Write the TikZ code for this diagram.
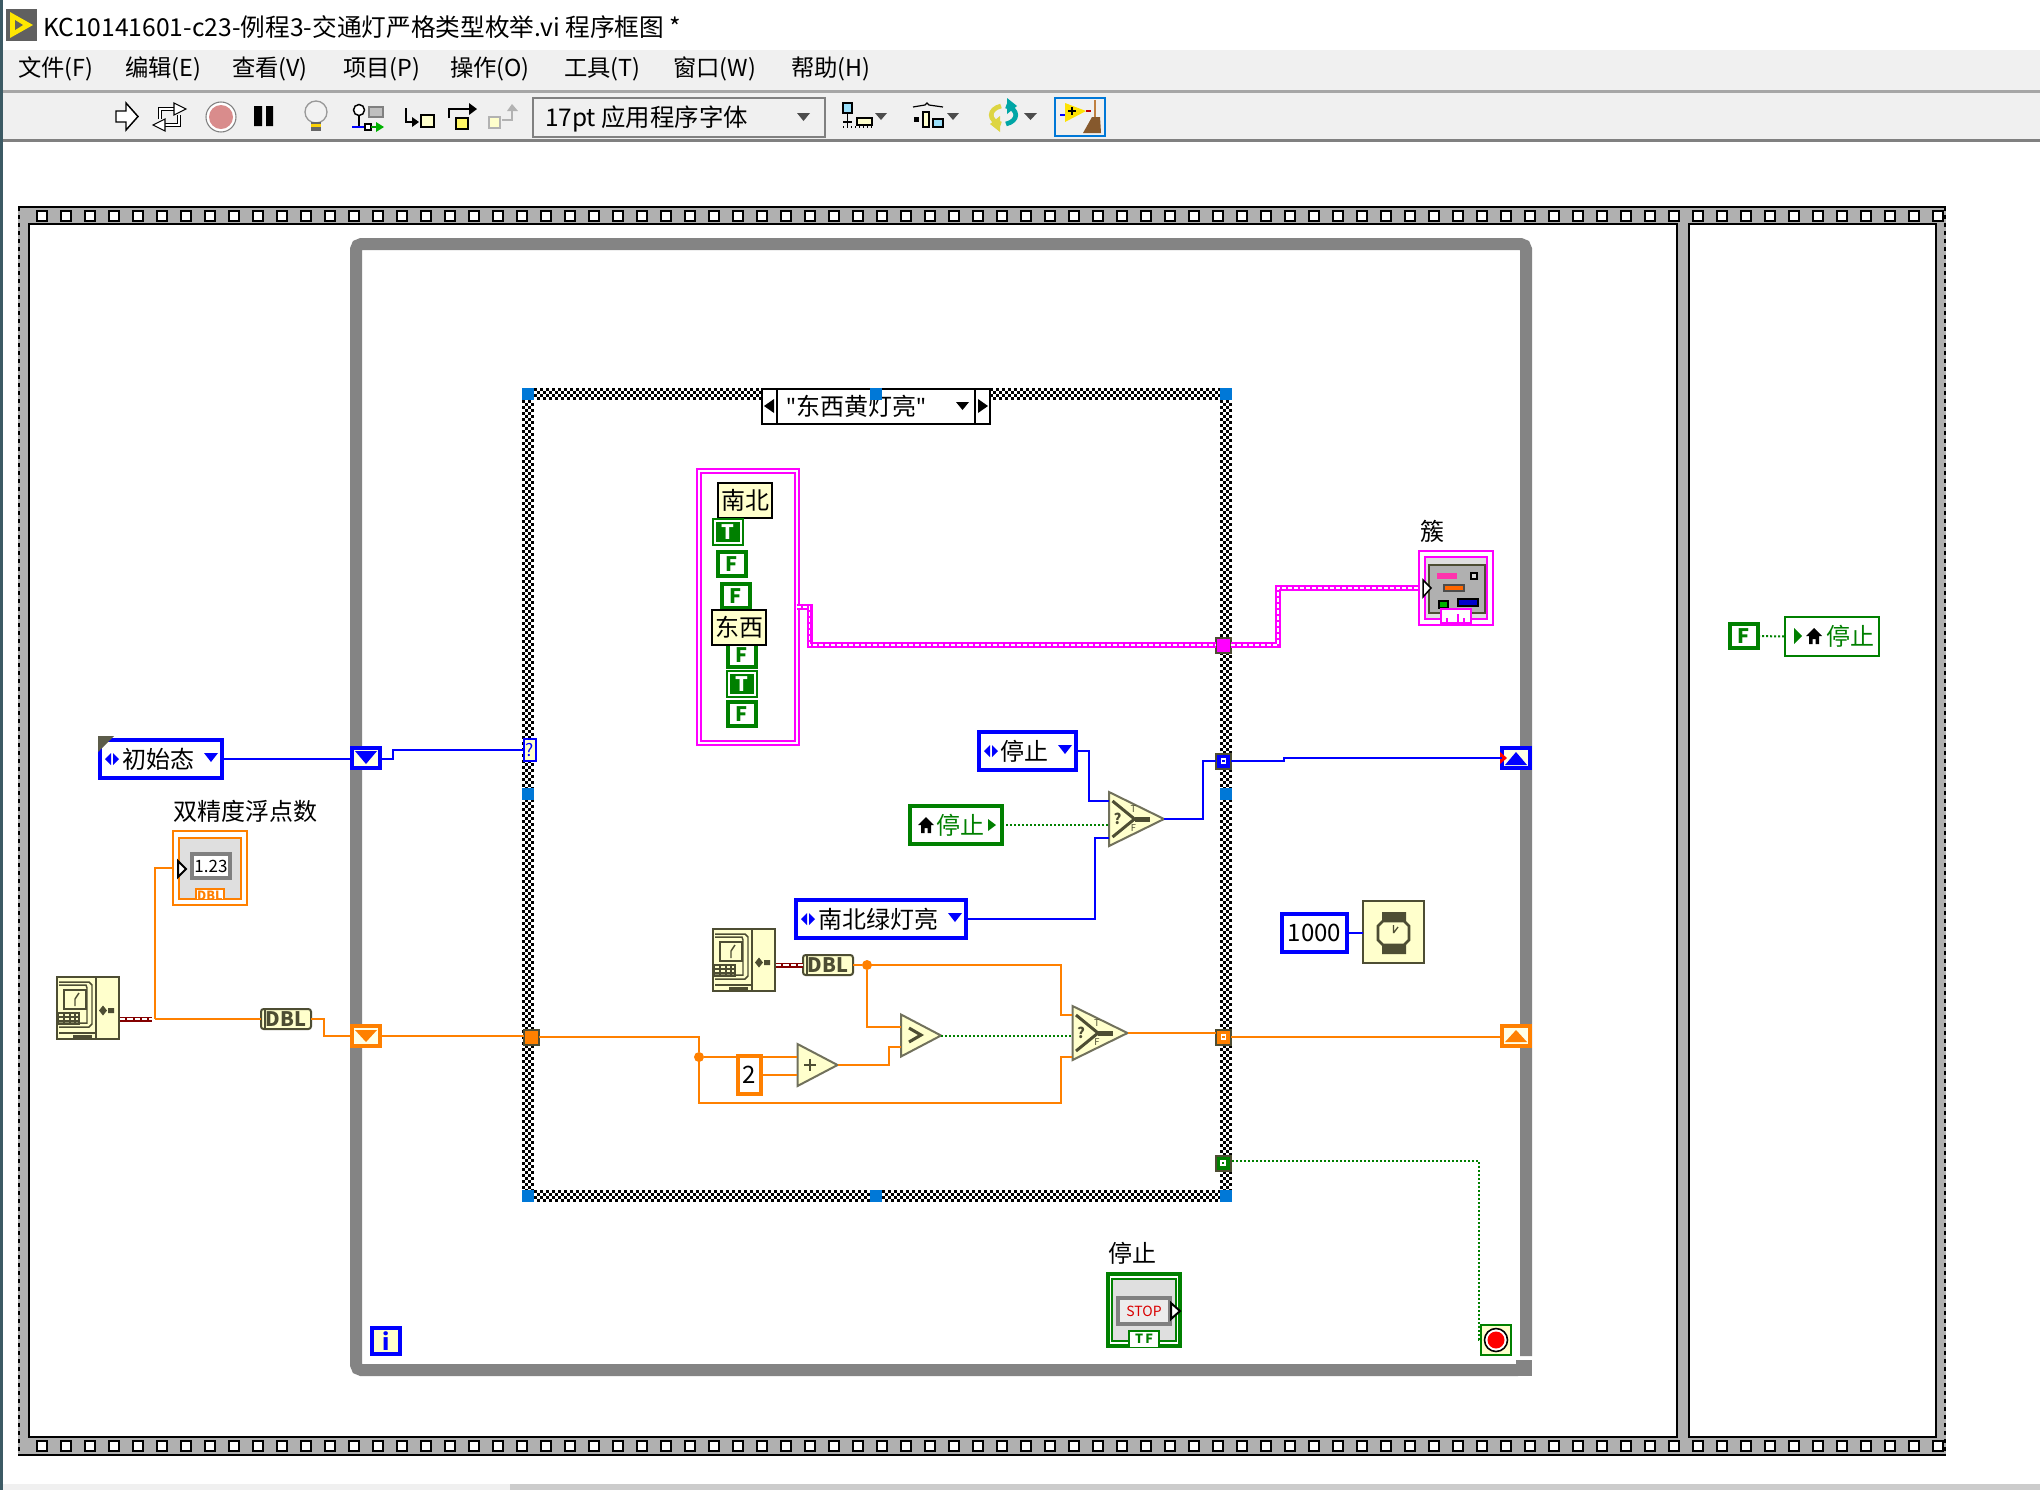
\documentclass[tikz,border=0pt]{standalone}
\usepackage{fontspec}
\setmainfont{Noto Sans CJK SC}
\newfontfamily\quotefont{Noto Sans}
\usepackage{xcolor}
\usepackage{tikz}

\definecolor{wireblue}{RGB}{0,0,255}
\definecolor{wireorg}{RGB}{255,128,0}
\definecolor{wiregrn}{RGB}{0,128,0}
\definecolor{wiremag}{RGB}{255,0,255}
\definecolor{wirered}{RGB}{132,0,0}
\definecolor{primfill}{RGB}{255,255,204}
\definecolor{primline}{RGB}{77,77,51}
\definecolor{handle}{RGB}{0,120,215}
\definecolor{barfill}{RGB}{240,240,240}
\definecolor{loopgray}{RGB}{132,132,132}
\definecolor{stripgray}{RGB}{176,176,176}
\definecolor{winedge}{RGB}{60,90,100}

\tikzset{
  wh/.style 2 args={minimum width=#1*0.75pt,minimum height=#2*0.75pt},
  plainbox/.style={inner sep=0pt,outer sep=0pt,align=center},
  labelfont/.style={font=\fontsize{18pt}{20pt}\selectfont},
  menufont/.style={plainbox,anchor=west,font=\fontsize{17.5pt}{20pt}\selectfont},
  freelabel/.style={plainbox,labelfont},
  enumbox/.style={plainbox,labelfont,draw=wireblue,fill=white,line width=3pt},
  localbox/.style={plainbox,labelfont,text=wiregrn,draw=wiregrn,fill=white,line width=3pt},
  namebox/.style={plainbox,labelfont,draw=black,fill=primfill,line width=1.5pt,wh={54}{35}},
  boolF/.style={plainbox,draw=wiregrn,fill=white,text=wiregrn,line width=3pt,
    font=\fontsize{15pt}{16pt}\selectfont\bfseries,wh={28}{24}},
  boolT/.style={plainbox,draw=wiregrn,fill=wiregrn,text=white,line width=1.5pt,
    double=white,double distance=1.5pt,font=\fontsize{15pt}{16pt}\selectfont\bfseries,wh={26}{22}},
  tunsolid/.style={plainbox,draw=primline,line width=1.5pt,wh={15}{15}},
  regbox/.style={plainbox,line width=3pt,fill=primfill!50!white,wh={28}{20}},
  primbox/.style={plainbox,draw=primline,fill=primfill,line width=1.5pt},
  hidebox/.style={plainbox},
  dblbox/.style={plainbox,draw=primline,fill=primfill,line width=1.5pt,rounded corners=2pt,
    font=\fontsize{15pt}{16pt}\selectfont\bfseries,text=primline,wh={50}{20}},
  junc/.style={circle,fill=wireorg,inner sep=0pt,minimum size=7.5pt},
  bluewire/.style={draw=wireblue,line width=1.5pt},
  orgwire/.style={draw=wireorg,line width=1.5pt},
  grnwire/.style={draw=wiregrn,line width=1.5pt,dash pattern=on 1.5pt off 1.5pt},
  clusterwire/.style={draw=wiremag,line width=4.5pt,postaction={draw=white,line width=1.1pt,dash pattern=on 3pt off 1.5pt}},
  timewire/.style={draw=wirered,line width=3.75pt,postaction={draw=white,line width=1.1pt,dash pattern=on 4pt off 1.5pt}},
  chkA/.style={draw=black,line width=2.25pt,dash pattern=on 2.25pt off 2.25pt},
  chkB/.style={chkA,dash phase=2.25pt},
  handlebox/.style={fill=handle,inner sep=0pt,outer sep=0pt,wh={12}{12}},
}

% checker bands of the case frame
\newcommand\checkh[3]{%
  \fill[white] (#1,#3) rectangle (#2,#3+12);
  \draw[chkA] (#1,#3+1.5) -- (#2,#3+1.5);
  \draw[chkB] (#1,#3+4.5) -- (#2,#3+4.5);
  \draw[chkA] (#1,#3+7.5) -- (#2,#3+7.5);
  \draw[chkB] (#1,#3+10.5) -- (#2,#3+10.5);}
\newcommand\checkv[3]{%
  \fill[white] (#3,#1) rectangle (#3+12,#2);
  \draw[chkA] (#3+1.5,#1) -- (#3+1.5,#2);
  \draw[chkB] (#3+4.5,#1) -- (#3+4.5,#2);
  \draw[chkA] (#3+7.5,#1) -- (#3+7.5,#2);
  \draw[chkB] (#3+10.5,#1) -- (#3+10.5,#2);}
% film strip holes
\newcommand\holes[1]{%
  \draw[black,line width=9pt,dash pattern=on 9pt off 9pt] (36,#1) -- (1945,#1);
  \draw[white,line width=6pt,dash pattern=on 6pt off 12pt] (38,#1) -- (1945,#1);}
% enum glyphs
\newcommand\enumdeco[1]{%
  \fill[wireblue,shift={(#1.west)}] (5,0) -- (11,-6) -- (11,6) -- cycle (19,0) -- (13,-6) -- (13,6) -- cycle;
  \fill[wireblue,shift={(#1.east)}] (-18,-6) -- (-4,-6) -- (-11,3) -- cycle;}
\newcommand\homeicon[3]{%
  \fill[#1,shift={(#2,#3)}] (-8,0) -- (0,-8) -- (8,0) -- (5,0) -- (5,8) -- (1.5,8) -- (1.5,3) -- (-1.5,3) -- (-1.5,8) -- (-5,8) -- (-5,0) -- cycle;}
% tick count
\newcommand\tickicon[3]{%
  \node[primbox,wh={62}{62}] (#1) at (#2,#3) {};
  \begin{scope}[shift={(#2,#3)},draw=primline,line width=1.1pt]
    \draw (-29,-26) -- (1,-26) -- (4,-23) -- (4,16) -- (1,19) -- (-29,19);
    \draw (-29,-23) -- (-2,-23) -- (-1,-20) -- (-1,15) -- (-29,15);
    \draw (8,-32) -- (8,32);
    \draw (-29,25) -- (8,25);
    \draw[fill=primfill] (-24,-18) rectangle (-2,1);
    \draw (-13,-9) -- (-13,-2) (-13,-9) -- (-9,-15);
    \draw (-30,5) rectangle (-9,16) (-30,9) -- (-9,9) (-30,13) -- (-9,13) (-24,5) -- (-24,16) (-18,5) -- (-18,16) (-13,5) -- (-13,16);
    \fill[primline] (-15,27) rectangle (4,31);
    \fill[primline] (20,0) rectangle (26,5) (11,2.5) -- (15,-2.5) -- (19,2.5) -- (15,7.5) -- cycle;
  \end{scope}}
% select
\newcommand\selprim[3]{%
  \node[hidebox,wh={55}{54}] (#1) at (#2,#3) {};
  \begin{scope}[shift={(#2,#3)}]
    \draw[draw=primline!80!white,fill=primfill,line width=1.5pt] (-27.5,-27) -- (27.5,0) -- (-27.5,27) -- cycle;
    \draw[primline,line width=2.25pt] (-24,-18) -- (-2,0) -- (-24,18);
    \draw[primline,line width=3.75pt] (-2,0) -- (13,0);
    \node[plainbox,text=primline] (#1q) at (-19,0) {\fontsize{11pt}{12pt}\selectfont\bfseries ?};
    \node[plainbox,text=primline] (#1t) at (-3,-10) {\fontsize{7pt}{8pt}\selectfont T};
    \node[plainbox,text=primline] (#1f) at (-3,9) {\fontsize{7pt}{8pt}\selectfont F};
  \end{scope}}
% small triangle prim
\newcommand\triprim[3]{%
  \node[hidebox,wh={40}{42}] (#1) at (#2,#3) {};
  \draw[draw=primline!80!white,fill=primfill,line width=1.5pt,shift={(#2,#3)}] (-20,-21) -- (20,0) -- (-20,21) -- cycle;}

\begin{document}
\begin{tikzpicture}[x=0.75pt,y=0.75pt,yscale=-1,xscale=1]
\useasboundingbox (0,0) rectangle (2040,1490);
\fill[white] (0,0) rectangle (2040,1490);

%Window bars
\fill[barfill] (0,50) rectangle (2040,90);
\fill[barfill] (0,93) rectangle (2040,140);
\fill[gray!70] (0,90) rectangle (2040,93);
\fill[gray] (0,139) rectangle (2040,142);
\fill[barfill] (0,1484) rectangle (510,1490);
\fill[gray!40] (510,1484) rectangle (2040,1490);
\fill[winedge] (0,0) rectangle (3,1490);

%Title icon
\fill[gray!75!black] (6,9) rectangle (37,41);
\fill[yellow!90!orange] (10,12) -- (33,25) -- (10,38) -- cycle;
\fill[gray!75!black] (15,20) -- (23,25) -- (15,30) -- cycle;

% Text Node
\node[plainbox,anchor=west,font=\fontsize{18.5pt}{20pt}\selectfont] (winTitle) at (43,27) {KC10141601-c23-例程3-交通灯严格类型枚举.vi 程序框图 *};
% Text Node
\node[menufont] (mFile) at (18,69) {文件(F)};
\node[menufont] (mEdit) at (125,69) {编辑(E)};
\node[menufont] (mView) at (232,69) {查看(V)};
\node[menufont] (mProj) at (343,69) {项目(P)};
\node[menufont] (mOper) at (450,69) {操作(O)};
\node[menufont] (mTool) at (564,69) {工具(T)};
\node[menufont] (mWin) at (673,69) {窗口(W)};
\node[menufont] (mHelp) at (791,69) {帮助(H)};

%Toolbar icons
\draw[fill=white,line width=1.1pt,line join=miter] (116,111) -- (126,111) -- (126,103) -- (138,116.5) -- (126,130) -- (126,122) -- (116,122) -- cycle;
\draw[line width=2.6pt] (160,119) -- (160,109) -- (175,109) (179,115) -- (179,125) -- (164,125);
\draw[white,line width=.8pt] (160,119) -- (160,109) -- (175,109) (179,115) -- (179,125) -- (164,125);
\draw[fill=white,line width=.8pt] (174,103) -- (186,109) -- (174,115) -- cycle (165,119) -- (153,125) -- (165,131) -- cycle;
\draw[gray,fill=white,line width=.8pt] (221,117) circle (15);
\fill[red!50!gray!60!white] (221,117) circle (12);
\fill[black] (254,106) rectangle (262,126) (266,106) rectangle (273,126);
\draw[gray!80,fill=white!90!gray,line width=1pt] (316,112) circle (11);
\fill[black!60] (311,122) rectangle (321,131);
\fill[yellow!70!orange] (311,124) rectangle (321,126.5);
\draw[line width=1.1pt,fill=white] (359,110) circle (5.5);
\draw[line width=1.1pt] (359,115.5) -- (359,127);
\draw[gray,fill=gray!50,line width=.8pt] (369,107) rectangle (383,117);
\draw[wireblue,line width=1.1pt] (352,127) -- (365,127);
\draw[line width=.8pt,fill=white] (365,124) rectangle (371,130);
\draw[wiregrn!80!green,line width=1.1pt] (371,127) -- (376,127);
\fill[green!70!black] (376,122) -- (384,127) -- (376,132) -- cycle;
\draw[line width=1.7pt] (406,108) -- (406,122) -- (414,122);
\fill[black] (412,117) -- (419,122) -- (412,127) -- cycle;
\draw[line width=1.3pt,fill=primfill] (421,115) rectangle (434,127);
\draw[line width=1.7pt] (449,118) -- (449,109) -- (471,109);
\fill[black] (469,103) -- (477,109) -- (469,115) -- cycle;
\draw[line width=1.3pt,fill=yellow!60] (456,118) rectangle (468,129);
\draw[gray!60,line width=1pt,fill=primfill] (489,117) rectangle (500,128);
\draw[gray!60,line width=1.7pt] (502,120) -- (512,120) -- (512,110);
\fill[gray!60] (507,111) -- (512,104) -- (518,111) -- cycle;

%Font box
\node[plainbox,draw=gray,fill=barfill,line width=1.5pt,wh={292}{39}] (fontBox) at (678.5,117) {};
% Text Node
\node[plainbox,anchor=west,font=\fontsize{18.3pt}{20pt}\selectfont] (fontText) at (545,119) {17pt 应用程序字体};
\fill[black!70] (797,113) -- (810,113) -- (803.5,121) -- cycle;

%Align icons
\draw[line width=1pt,fill=cyan!40] (843,103) rectangle (852,113);
\draw[line width=1.1pt] (847.5,114) -- (847.5,128) (843,122) -- (852,122);
\draw[line width=1pt,dotted] (843,127) -- (872,127);
\draw[line width=1pt,fill=primfill] (857,118) rectangle (872,125);
\fill[black!70] (875,113) -- (887,113) -- (881,120) -- cycle;
\draw[line width=.9pt] (913,107) -- (925,105) -- (927,103) -- (929,105) -- (943,107);
\fill[black] (914,117) rectangle (919,122);
\draw[line width=1pt,fill=primfill] (923,112) rectangle (929,127);
\draw[line width=1pt,fill=cyan!40] (933,119) rectangle (943,127);
\fill[black!70] (947,113) -- (959,113) -- (953,120) -- cycle;
\draw[yellow!70!gray,line width=3.5pt] (1001,106) .. controls (988,109) and (988,121) .. (1001,124);
\fill[yellow!70!gray] (1000,116) -- (1000,132) -- (990,124) -- cycle;
\draw[teal!70!cyan,line width=3.5pt] (1006,106) .. controls (1019,109) and (1019,121) .. (1006,124);
\fill[teal!70!cyan] (1007,98) -- (1007,114) -- (1017,106) -- cycle;
\fill[black!70] (1024,113) -- (1037,113) -- (1030.5,120) -- cycle;
\draw[handle,line width=1.5pt] (1055,98) rectangle (1105,136);
\fill[yellow!85!orange] (1065,103) -- (1086,111) -- (1065,122) -- cycle;
\draw[black,line width=1pt] (1068,111) -- (1076,111) (1072,107) -- (1072,115);
\draw[wirered!50!red,line width=1pt] (1086,111) -- (1091,111);
\draw[wireblue,line width=1pt] (1060,115) -- (1065,115);
\fill[brown!70!black] (1083,133) -- (1092,117) -- (1100,117) -- (1101,133) -- cycle;
\draw[brown,line width=1.5pt] (1095,100) -- (1095,117);

%Film strip frame
\fill[stripgray] (18,206) rectangle (1946,1456);
\draw[black,line width=1.5pt] (18,207) -- (1946,207) (18,1455) -- (1946,1455);
\draw[black,line width=1.5pt,dash pattern=on 3pt off 3pt] (19,207) -- (19,1455) (1945,207) -- (1945,1455);
\holes{216}
\holes{1446}
\draw[black,fill=white,line width=1.5pt] (29,224) rectangle (1677,1437);
\draw[black,fill=white,line width=1.5pt] (1689,224) rectangle (1936,1437);

%While loop
\draw[loopgray,line width=9pt,rounded corners=4pt] (1526,1356) -- (1526,244) -- (356,244) -- (356,1370) -- (1518,1370);
\fill[loopgray] (1516,1360) rectangle (1532,1376);

%Case frame
\checkh{522}{1232}{388}
\checkh{522}{1232}{1190}
\checkv{388}{1202}{522}
\checkv{388}{1202}{1220}

%Case selector
\node[plainbox,draw=black,fill=white,line width=1.5pt,labelfont,wh={228}{35}] (caseSel) at (876,406.5) {};
\draw[black,line width=1.5pt] (777,389) -- (777,424) (975,389) -- (975,424);
\fill[black] (764,406) -- (774,399) -- (774,413) -- cycle (988,406) -- (978,399) -- (978,413) -- cycle;
\fill[black] (956,402) -- (969,402) -- (962.5,410) -- cycle;
% Text Node
\node[freelabel] (caseText) at (856,406.5) {{\quotefont"}东西黄灯亮{\quotefont"}};

%Selection handles
\node[handlebox] (hdlA) at (528,394) {};
\node[handlebox] (hdlB) at (876,394) {};
\node[handlebox] (hdlC) at (1226,394) {};
\node[handlebox] (hdlD) at (528,794) {};
\node[handlebox] (hdlE) at (1226,794) {};
\node[handlebox] (hdlF) at (528,1196) {};
\node[handlebox] (hdlG) at (876,1196) {};
\node[handlebox] (hdlH) at (1226,1196) {};

%Cluster constant
\node[plainbox,draw=wiremag,fill=white,double=white,double distance=1.5pt,line width=1.5pt,wh={98}{272}] (clustConst) at (747.5,607) {};
\node[namebox] (nameNS) at (745,500.5) {南北};
\node[boolT] (boolA) at (728,532) {T};
\node[boolF] (boolB) at (732,564) {F};
\node[boolF] (boolC) at (736,596) {F};
\node[boolF] (boolD) at (742,655) {F};
\node[namebox] (nameEW) at (739,627) {东西};
\node[boolT] (boolE) at (742,684) {T};
\node[boolF] (boolF) at (742,714) {F};

%Enums and locals
\node[enumbox,wh={122}{38}] (enumInit) at (161,759) {初始态\hspace{4pt}};
\enumdeco{enumInit}
\fill[primline!70!gray] (98,736) -- (114,736) -- (98,752) -- cycle;
\node[enumbox,wh={97}{38}] (enumStop) at (1027.5,751) {停止\hspace{4pt}};
\enumdeco{enumStop}
\node[enumbox,wh={170}{38}] (enumSN) at (881,919) {南北绿灯亮\hspace{4pt}};
\enumdeco{enumSN}
\node[localbox,wh={92}{38}] (localStop) at (956,825) {\hspace{6pt}停止};
\homeicon{black}{926}{825}
\fill[wiregrn] (988,819) -- (996,825) -- (988,831) -- cycle;
\node[plainbox,draw=wiregrn,fill=white,text=wiregrn,line width=1.5pt,labelfont,wh={94}{39}] (localStopB) at (1832,636.5) {\hspace{28pt}停止};
\homeicon{black}{1814}{636}
\fill[wiregrn] (1794,628) -- (1802,636) -- (1794,644) -- cycle;
\node[boolF,wh={28}{24}] (cstFalse) at (1744,636) {F};

%Tunnels on the loop
\node[regbox,draw=wireblue] (regBlueL) at (366,758) {};
\fill[wireblue] (355,751) -- (377,751) -- (366,764) -- cycle;
\node[regbox,draw=wireorg] (regOrgL) at (366,1036) {};
\fill[wireorg] (355,1030) -- (377,1030) -- (366,1042) -- cycle;
\node[regbox,draw=wireblue] (regBlueR) at (1516,758) {};
\fill[wireblue] (1505,765) -- (1527,765) -- (1516,752) -- cycle;
\fill[red] (1500,752) -- (1507,758) -- (1500,764) -- cycle;
\node[regbox,draw=wireorg] (regOrgR) at (1516,1036) {};
\fill[wireorg] (1505,1042) -- (1527,1042) -- (1516,1030) -- cycle;

%Tunnels on the case
\node[plainbox,draw=wireblue,fill=primfill,line width=1.5pt,text=wireblue,font=\fontsize{13pt}{14pt}\selectfont,wh={12}{22}] (caseQ) at (530,750) {?};
\node[tunsolid,fill=wireorg] (tunOrgL) at (531,1037) {};
\node[tunsolid,fill=wiremag] (tunClust) at (1223.5,645) {};
\node[tunsolid,fill=wireblue] (tunBlue) at (1223.5,761) {};
\draw[white,line width=1pt] (1221.5,759) rectangle (1225.5,763);
\node[tunsolid,fill=wireorg] (tunOrgR) at (1223.5,1037) {};
\draw[white,line width=1pt] (1221.5,1035) rectangle (1225.5,1039);
\node[tunsolid,fill=wiregrn] (tunGrn) at (1223,1163) {};
\draw[white,line width=1pt] (1221,1161) rectangle (1225,1165);

%Tick counts and conversions
\tickicon{tickA}{88}{1008}
\tickicon{tickB}{744}{960}
\node[dblbox] (dblA) at (286,1019) {DBL};
\draw[primline,line width=1pt] (265,1009) -- (265,1029);
\node[dblbox] (dblB) at (828,965) {DBL};
\draw[primline,line width=1pt] (807,955) -- (807,975);

%Numeric indicator
\node[plainbox,draw=wireorg,fill=white,line width=1.5pt,wh={74}{74}] (numInd) at (210,868) {};
\draw[wireorg,fill=gray!25,line width=1.5pt] (179,838) rectangle (241,899);
\draw[gray,fill=white,line width=3pt] (192,854) rectangle (230,878);
\node[plainbox,font=\fontsize{12.75pt}{14pt}\selectfont] (numText) at (211,866) {1.23};
\draw[wireorg,fill=white,line width=1.5pt] (196,899) -- (196,889) -- (224,889) -- (224,899);
\node[plainbox,text=wireorg,font=\fontsize{9.5pt}{10pt}\selectfont\bfseries] (numTag) at (210,896) {DBL};
\draw[black,fill=white,line width=1.5pt] (178,861) -- (186,869) -- (178,877) -- cycle;
% Text Node
\node[freelabel] (numLabel) at (245.5,811) {双精度浮点数};

%Cluster indicator
\node[plainbox,draw=wiremag,fill=white,line width=1.5pt,wh={74}{74}] (clustInd) at (1456,588) {};
\draw[wiremag,fill=gray!25,line width=1.5pt] (1425,557) rectangle (1487,619);
\draw[primline,fill=stripgray,line width=1.5pt] (1429,565) rectangle (1485,613);
\fill[wiremag!60!red!80!white] (1437,573) rectangle (1457,579);
\draw[black,fill=white!70!gray,line width=1pt] (1471,573) rectangle (1477,579);
\draw[black!70,fill=orange!80!red,line width=.8pt] (1444,585) rectangle (1464,591);
\draw[black,fill=green!70!black,line width=.8pt] (1439,601) rectangle (1448,608);
\draw[black,fill=wireblue!80!black,line width=.8pt] (1458,599) rectangle (1478,606);
\draw[wiremag,fill=white,line width=1.5pt] (1441,609) rectangle (1471,623);
\draw[wiremag,line width=1.5pt] (1447,624) -- (1447,618) (1458,624) -- (1458,614) (1464,624) -- (1464,618);
\draw[black,fill=white,line width=1.1pt] (1423,580) -- (1431,588) -- (1423,597) -- cycle;
% Text Node
\node[freelabel] (clustLabel) at (1432,531) {簇};

%Primitives
\triprim{addPrim}{817.5}{1065}
\draw[primline,line width=1.9pt] (804,1065) -- (816,1065) (810,1059) -- (810,1071);
\triprim{gtPrim}{921}{1035.5}
\draw[primline,line width=2.3pt] (909,1028) -- (921,1035) -- (909,1042);
\selprim{selTop}{1136.5}{819}
\selprim{selBot}{1100}{1033}
\node[plainbox,draw=wireorg,fill=white,line width=3pt,wh={23}{38},labelfont] (cstTwo) at (749.5,1075) {2};
\node[enumbox,wh={65}{38}] (cstWait) at (1314.5,933) {1000};
\node[primbox,wh={61}{62}] (waitPrim) at (1393.5,932) {};
\fill[primline] (1382,912) rectangle (1406,925) (1382,941) rectangle (1406,954);
\draw[primline,fill=primfill,line width=2pt] (1383,921) -- (1404,921) -- (1409,926) -- (1409,940) -- (1404,945) -- (1383,945) -- (1378,940) -- (1378,926) -- cycle;
\draw[primline,line width=1pt] (1393.5,933) -- (1393.5,925) (1393.5,933) -- (1398,927);

%Stop control
\node[plainbox,draw=wiregrn,fill=white,line width=3pt,wh={72}{72}] (stopCtl) at (1144,1310) {};
\draw[wiregrn,fill=gray!25,line width=1.5pt] (1112,1279) rectangle (1176,1341);
\draw[gray,fill=gray!15,line width=2.5pt] (1118,1298) rectangle (1170,1324);
\node[plainbox,text=red!85!black,font=\fontsize{10.5pt}{12pt}\selectfont] (stopText) at (1144,1311) {STOP};
\draw[black,fill=white,line width=1.5pt] (1171,1303) -- (1180,1311) -- (1171,1319) -- cycle;
\draw[wiregrn,fill=white,line width=1.5pt] (1129,1347) -- (1129,1331) -- (1159,1331) -- (1159,1347);
\node[plainbox,text=wiregrn,font=\fontsize{9.5pt}{10pt}\selectfont\bfseries] (stopTag) at (1144,1339) {T\,F};
% Text Node
\node[freelabel] (stopLabel) at (1132,1253) {停止};

%Iteration and condition
\node[plainbox,draw=wireblue,fill=primfill,text=wireblue,line width=3pt,wh={28}{26},font=\fontsize{17pt}{18pt}\selectfont\bfseries] (iterBox) at (386,1341) {i};
\node[plainbox,draw=wiregrn,fill=primfill,line width=1.5pt,wh={30}{30}] (condStop) at (1496,1340) {};
\draw[black,fill=white,line width=1.2pt] (1496,1340) circle (11.5);
\fill[red] (1496,1340) circle (8.5);

%Terminals
\coordinate (addA) at (797,1057);
\coordinate (addB) at (797,1075);
\coordinate (gtA) at (901,1027);
\coordinate (gtB) at (901,1047);
\coordinate (selTopT) at (1109,801);
\coordinate (selTopF) at (1109,838);
\coordinate (selBotT) at (1072,1015);
\coordinate (selBotF) at (1072,1057);
\coordinate (timeA) at (120,1019);
\coordinate (timeAend) at (152,1019);
\coordinate (turnA) at (155,1019);
\coordinate (timeB) at (776,965);
\coordinate (grnOut) at (1232,1161);
\node[junc] (jcA) at (699,1057) {};
\node[junc] (jcB) at (867,965) {};

%Blue wires
\draw[bluewire] (enumInit.east) -- (enumInit.east -| regBlueL.west);
\draw[bluewire] (enumInit.east -| regBlueL.east) -- ++(13,0) |- (caseQ.west);
\draw[bluewire] (enumStop.east) -- ++(13,0) |- (selTopT);
\draw[bluewire] (enumSN.east) -- ++(129,0) |- (selTopF);
\draw[bluewire] (selTop.east) -- ++(39,0) |- (tunBlue.west);
\draw[bluewire] (tunBlue.east) -- ++(53,0) |- (regBlueR.west);
\draw[bluewire] (cstWait.east) -- (cstWait.east -| waitPrim.west);

%Orange wires
\draw[timewire] (timeA) -- (timeAend);
\draw[timewire] (timeB) -- (dblB.west);
\draw[orgwire] (turnA) -- (dblA.west);
\draw[orgwire] (turnA) |- (numInd.west);
\draw[orgwire] (dblA.east) -- ++(13,0) |- (regOrgL.west);
\draw[orgwire] (regOrgL.east) -- (regOrgL.east -| tunOrgL.west);
\draw[orgwire] (tunOrgL.east) -| (jcA);
\draw[orgwire] (jcA) -- (addA);
\draw[orgwire] (jcA.center) -- ++(0,46) -- ++(362,0) |- (selBotF);
\draw[orgwire] (addB -| cstTwo.east) -- (addB);
\draw[orgwire] (addPrim.east) -- ++(51,0) |- (gtB);
\draw[orgwire] (dblB.east) -- (jcB);
\draw[orgwire] (jcB.center) -- ++(194,0) |- (selBotT);
\draw[orgwire] (jcB) |- (gtA);
\draw[orgwire] (selBot.east) -- (selBot.east -| tunOrgR.west);
\draw[orgwire] (tunOrgR.east) -- (tunOrgR.east -| regOrgR.west);

%Green wires
\draw[grnwire] (localStop.east) -- (localStop.east -| selTop.west);
\draw[grnwire] (gtPrim.east) -- (gtPrim.east -| selBot.west);
\draw[grnwire] (grnOut) -- ++(247,0) |- (condStop.west);
\draw[grnwire] (cstFalse.east) -- (localStopB.west);

%Cluster wires
\draw[clusterwire] (clustConst.east) -- ++(13,0) |- (tunClust.west);
\draw[clusterwire] (tunClust.east) -- ++(47,0) |- (clustInd.west);

\end{tikzpicture}
\end{document}
